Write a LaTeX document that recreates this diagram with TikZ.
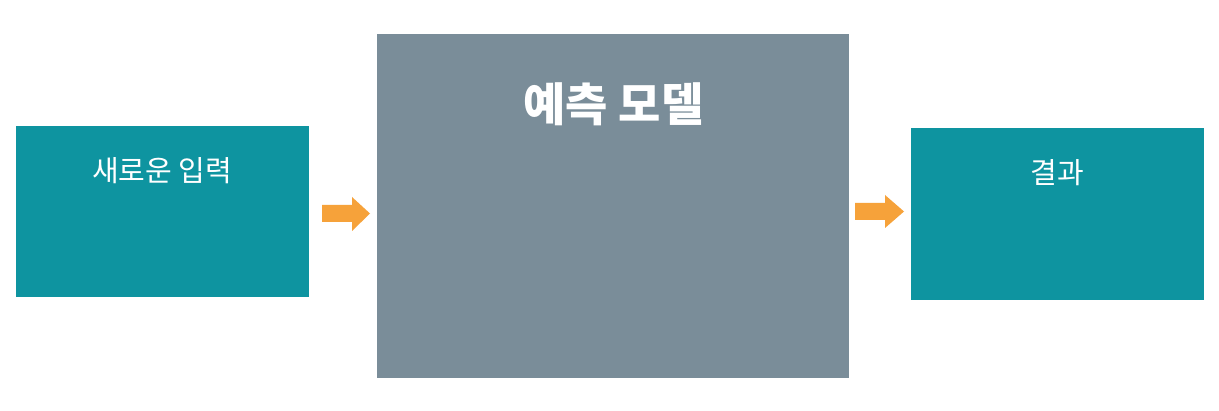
\documentclass[tikz,border=0pt]{standalone}
\usepackage{fontspec}
\newfontfamily\kr{Noto Sans CJK KR}
\definecolor{tealbox}{HTML}{0E94A0}
\definecolor{graybox}{HTML}{7A8D99}
\definecolor{orangearr}{HTML}{F6A23A}
\begin{document}
\begin{tikzpicture}[x=1pt,y=-1pt,
  lbl/.style={text=white, font=\kr\fontsize{29}{32}\selectfont, anchor=center, inner sep=0pt},
  arr/.style={fill=orangearr, draw=none}]
\useasboundingbox (0,0) rectangle (1219,411);
\fill[white] (0,0) rectangle (1219,411);
% boxes
\fill[tealbox] (16,126) rectangle (309,297);
\fill[graybox] (377,34) rectangle (849,378);
\fill[tealbox] (911,128) rectangle (1204,300);
\coordinate (inL) at (162,171);
\coordinate (mdl) at (613.5,104);
\coordinate (res) at (1057,173);
\node[lbl] (in) at (inL) {새로운 입력};
\node[text=white, inner sep=0pt, font=\kr\bfseries\fontsize{46}{50}\selectfont] (model) at (mdl) {예측 모델};
\node[lbl] (out) at (res) {결과};
% arrows
\fill[arr] (322,205) -- (352,205) -- (352,197) -- (370,213.5) -- (352,231) -- (352,222) -- (322,222) -- cycle;
\fill[arr] (855,203) -- (885,203) -- (885,195) -- (904,211.5) -- (885,228) -- (885,220) -- (855,220) -- cycle;
\end{tikzpicture}
\end{document}
